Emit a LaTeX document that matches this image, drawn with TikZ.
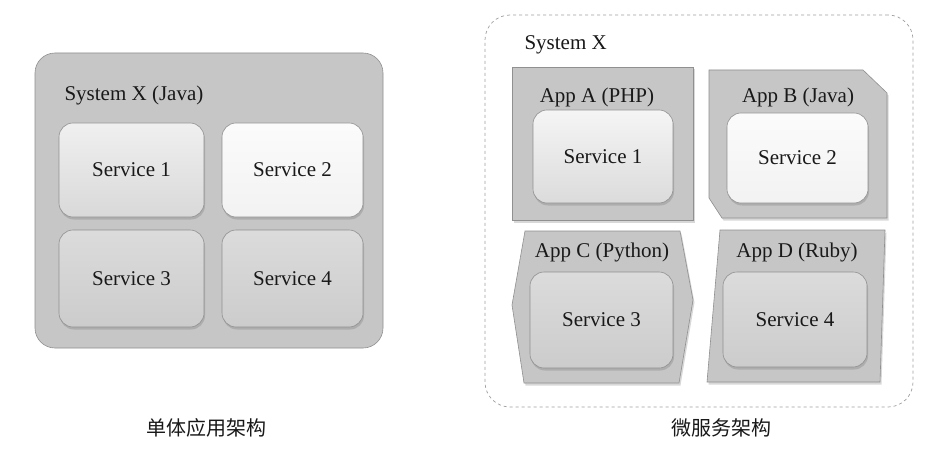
\documentclass[tikz,border=0pt]{standalone}
\usepackage{fontspec}
\setmainfont{Liberation Serif}
\newfontfamily\cjkfont{Noto Sans CJK SC}
\usepackage{xcolor}
\usepackage{tikz}
\usetikzlibrary{shapes,shadows,calc}
\definecolor{boxGray}{HTML}{C6C6C6}
\definecolor{lineGray}{HTML}{909090}
\tikzstyle{tsText} = [ 
    text=black!90, 
    font=\fontsize{21}{24}\selectfont
]
\tikzstyle{tsCaption} = [ 
    text=black!90, 
    font=\cjkfont\fontsize{20}{24}\selectfont
]
\tikzstyle{tsSystem} = [ 
    rectangle,
    rounded corners=20pt,
    draw=lineGray,
    fill=boxGray,
    line width=0.6pt]
\tikzstyle{tsService} = [ 
    rectangle,
    tsText,
    rounded corners=14pt,
    draw=lineGray,
    line width=0.6pt,
    drop shadow={shadow xshift=1pt, shadow yshift=-2.5pt, opacity=0.35}]
\tikzstyle{tsApp} = [ 
    draw=lineGray,
    fill=boxGray,
    line width=0.6pt,
    drop shadow={shadow xshift=1.5pt, shadow yshift=-2.5pt, opacity=0.3}]

\begin{document}
\begin{tikzpicture}[x=1pt, y=-1pt]
        
        \useasboundingbox[fill=white] (0,0) rectangle (944,449);
        
        % monolith
        \node[  tsSystem, 
                minimum width=348pt,
                minimum height=295pt] (mono) at (209,200.5) { };
        \node[tsText, anchor=west] (monoTitle) at (61,95) {System X (Java)};
        
        \node[tsService, minimum width=145pt, minimum height=94pt,
              top color=gray!12, bottom color=gray!30] (monoS1) at (131.5,170) {Service 1};
        \node[tsService, minimum width=141pt, minimum height=94pt,
              top color=gray!3, bottom color=gray!10] (monoS2) at (292.5,170) {Service 2};
        \node[tsService, minimum width=145pt, minimum height=97pt,
              top color=gray!28, bottom color=gray!40] (monoS3) at (131.5,278.5) {Service 3};
        \node[tsService, minimum width=141pt, minimum height=97pt,
              top color=gray!28, bottom color=gray!40] (monoS4) at (292.5,278.5) {Service 4};
        
        \node[tsCaption] (monoCap) at (206,428) {单体应用架构};
        
        % microservices
        \node[  rectangle,
                rounded corners=25pt,
                draw=gray!75,
                dashed,
                line width=0.7pt,
                minimum width=428pt,
                minimum height=392pt] (micro) at (699,211) { };
        \node[tsText, anchor=west] (microTitle) at (521,45) {System X};
        
        \node[tsApp, rectangle, minimum width=181pt, minimum height=153pt] (appA) at (602.5,143.5) { };
     	\draw[tsApp] (709,70) -- (863,70) -- (887,93) -- (887,218) -- (722,218) -- (709,198) -- cycle;
     	\draw[tsApp] (525,231) -- (680,231) -- (693,300) -- (679,383) -- (524,383) -- (512,305) -- cycle;
     	\draw[tsApp] (720,230) -- (885,230) -- (880,382) -- (707,382) -- cycle;
     	
     	\node[tsText] (appAName) at (597,97) {App A (PHP)};
     	\node[tsText] (appBName) at (798,97) {App B (Java)};
     	\node[tsText] (appCName) at (602,252) {App C (Python)};
     	\node[tsText] (appDName) at (797,252) {App D (Ruby)};
     	
        \node[tsService, minimum width=140pt, minimum height=93pt,
              top color=gray!8, bottom color=gray!28] (microS1) at (603,156.5) {Service 1};
        \node[tsService, minimum width=141pt, minimum height=90pt,
              top color=gray!3, bottom color=gray!10] (microS2) at (797.5,158) {Service 2};
        \node[tsService, minimum width=143pt, minimum height=96pt,
              top color=gray!28, bottom color=gray!40] (microS3) at (601.5,320) {Service 3};
        \node[tsService, minimum width=144pt, minimum height=95pt,
              top color=gray!28, bottom color=gray!40] (microS4) at (795,319.5) {Service 4};
   	 	
        \node[tsCaption] (microCap) at (721,428) {微服务架构};
   	 	
\end{tikzpicture}
\end{document}
